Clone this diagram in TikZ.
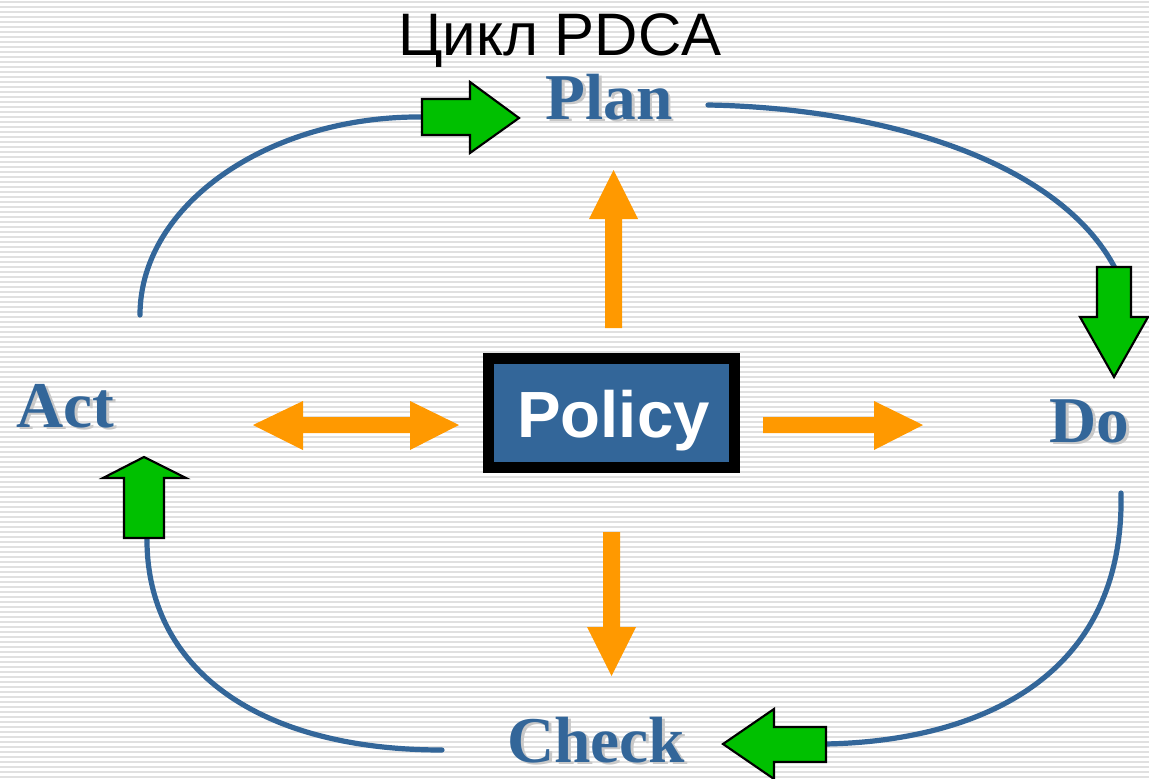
\documentclass[tikz,border=0pt]{standalone}
\usepackage{fontspec}
\setmainfont{Liberation Serif}
\setsansfont{Liberation Sans}
\definecolor{pdcablue}{HTML}{336699}
\definecolor{pdcaorange}{HTML}{FF9900}
\definecolor{pdcagreen}{HTML}{00C000}
\definecolor{stripe}{HTML}{E0E0E0}
\definecolor{shadowgray}{HTML}{C8C8C8}
\newcommand{\stagefont}{\bfseries\fontsize{49}{52}\selectfont}
% stage word with a soft grey drop shadow behind it
\newcommand{\shadowed}[1]{\makebox[0pt][l]{\kern2.2pt\raisebox{-2.2pt}{\textcolor{shadowgray}{#1}}}\textcolor{pdcablue}{#1}}
\tikzset{
  stage/.style={font=\stagefont, inner sep=0pt, anchor=base west},
  cycleline/.style={draw=pdcablue, line width=3.9pt, line cap=round},
  orangearrow/.style={fill=pdcaorange},
  greenarrow/.style={fill=pdcagreen, draw=black, line width=1.6pt, line join=miter},
  policybox/.style={draw=black, fill=pdcablue, line width=8.2pt, minimum width=184.5pt, minimum height=81.75pt, inner sep=0pt}
}
\begin{document}
\begin{tikzpicture}[x=0.75pt, y=-0.75pt]
\useasboundingbox (0,0) rectangle (1149,778);
% striped background
\fill[white] (0,0) rectangle (1149,778);
\foreach \yy in {2,7,...,777} \draw[stripe, line width=1.2pt] (0,\yy) -- (1149,\yy);

% title
\node[font=\sffamily\fontsize{45}{47}\selectfont, anchor=base, inner sep=0pt] (title) at (560,55) {Цикл PDCA};

% stage labels
\node[stage] (plan) at (545,119) {\shadowed{Plan}};
\node[stage] (do) at (1049,442) {\shadowed{Do}};
\node[stage] (check) at (507,762) {\shadowed{Check}};
\node[stage] (act) at (16,427) {\shadowed{Act}};

% central policy box
\node[policybox] (policy) at (611.5,413) {};
\node[font=\sffamily\bfseries\fontsize{49}{52}\selectfont, text=white, anchor=base, inner sep=0pt] (policytext) at (613.5,437) {Policy};

% cycle curves
\coordinate (a1) at (140,315);  \coordinate (a2) at (424,117);
\coordinate (p1) at (708,105);  \coordinate (p2) at (1116,270);
\coordinate (d1) at (1121,493); \coordinate (d2) at (824,744);
\coordinate (c1) at (442,750);  \coordinate (c2) at (147,536);
\draw[cycleline] (a1) .. controls (140,204) and (270,115) .. (a2);
\draw[cycleline] (p1) .. controls (880,108) and (1060,160) .. (p2);
\draw[cycleline] (d1) .. controls (1125,690) and (960,742) .. (d2);
\draw[cycleline] (c1) .. controls (260,750) and (145,670) .. (c2);

% green cycle arrows
\draw[greenarrow] (422,99) -- (470,99) -- (470,82) -- (519,118) -- (470,153) -- (470,135) -- (422,135) -- cycle;
\draw[greenarrow] (1097,267) -- (1131,267) -- (1131,317) -- (1148,317) -- (1114,377) -- (1080,317) -- (1097,317) -- cycle;
\draw[greenarrow] (826,727) -- (774,727) -- (774,709) -- (723,744) -- (774,779) -- (774,762) -- (826,762) -- cycle;
\draw[greenarrow] (124,538) -- (124,478) -- (103,478) -- (144,457) -- (186,478) -- (164,478) -- (164,538) -- cycle;

% orange policy arrows
\fill[orangearrow] (605,328) -- (605,219) -- (589,219) -- (613.5,170) -- (638,219) -- (622,219) -- (622,328) -- cycle;
\fill[orangearrow] (603,532) -- (620,532) -- (620,627) -- (636,627) -- (611.5,676) -- (587,627) -- (603,627) -- cycle;
\fill[orangearrow] (763,417) -- (874,417) -- (874,401) -- (923,425) -- (874,450) -- (874,433) -- (763,433) -- cycle;
\fill[orangearrow] (253,425) -- (303,401) -- (303,417) -- (410,417) -- (410,401) -- (459,425) -- (410,450) -- (410,433) -- (303,433) -- (303,450) -- cycle;
\end{tikzpicture}
\end{document}
